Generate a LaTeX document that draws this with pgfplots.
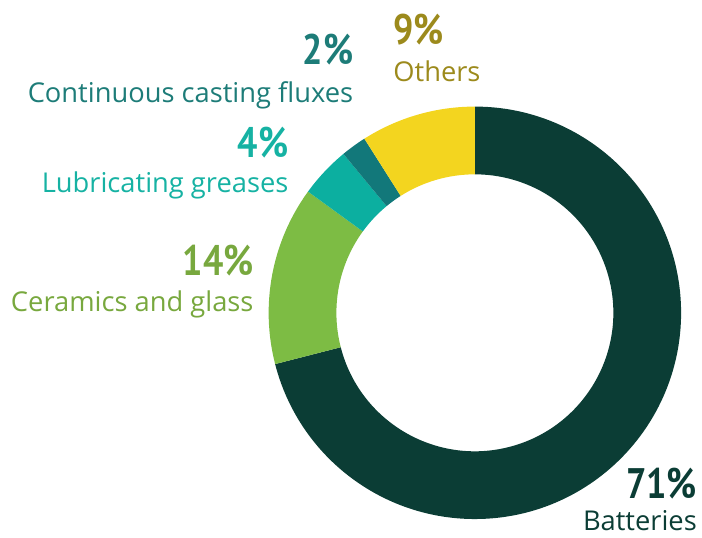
\documentclass[border=0pt]{standalone}
\usepackage{pgfplots}
\pgfplotsset{compat=1.18}
\usepackage{pgfplotstable}
\usepackage{graphicx}
\usepackage{fontspec}
\setmainfont{PT Sans}
\newfontfamily\lblfont{Open Sans}

\definecolor{slice0}{HTML}{0B3D35}
\definecolor{slice1}{HTML}{7DBC44}
\definecolor{slice2}{HTML}{0CAFA0}
\definecolor{slice3}{HTML}{12787A}
\definecolor{slice4}{HTML}{F3D51F}
\definecolor{txt0}{HTML}{0B3D35}
\definecolor{txt1}{HTML}{78A83E}
\definecolor{txt2}{HTML}{16B2A3}
\definecolor{txt3}{HTML}{1D7C78}
\definecolor{txt4}{HTML}{9C8A1C}

% shares in percent, clockwise from 12 o'clock
\pgfplotstableread{
share
71
14
4
2
9
}\slices

\newcommand\angS[1]{\csname aS#1\endcsname}
\newcommand\angE[1]{\csname aE#1\endcsname}
\newcommand\pct[1]{\scalebox{0.84}[1]{\fontsize{43}{48}\selectfont\bfseries #1}}
\newcommand\lbl[1]{{\lblfont\fontsize{27.5}{32}\selectfont #1}}

\begin{document}
\def\acc{90}
\pgfplotsforeachungrouped \i in {0,...,4}{%
  \pgfplotstablegetelem{\i}{share}\of\slices
  \pgfmathsetmacro\aend{\acc-3.6*\pgfplotsretval}%
  \expandafter\xdef\csname aS\i\endcsname{\acc}%
  \expandafter\xdef\csname aE\i\endcsname{\aend}%
  \xdef\acc{\aend}%
}%
\begin{tikzpicture}
\begin{axis}[x=1bp, y=1bp, xmin=0, xmax=702, ymin=0, ymax=540,
  hide axis, clip=false, scale only axis]
  \path (axis cs:0,0) rectangle (axis cs:702,540);
  \pgfplotsinvokeforeach{0,...,4}{
    \fill[slice#1] (axis cs:474,226) ++(\angS{#1}:207bp)
      arc[start angle=\angS{#1}, end angle=\angE{#1}, radius=207bp]
      -- ++(\angE{#1}+180:68bp)
      arc[start angle=\angE{#1}, end angle=\angS{#1}, radius=139bp] -- cycle;
  }
  \node[anchor=base east, inner sep=0pt, text=txt3] at (axis cs:352,475) {\pct{2\%}};
  \node[anchor=base east, inner sep=0pt, text=txt3] at (axis cs:352,437) {\lbl{Continuous casting fluxes}};
  \node[anchor=base east, inner sep=0pt, text=txt2] at (axis cs:287,382) {\pct{4\%}};
  \node[anchor=base east, inner sep=0pt, text=txt2] at (axis cs:287,347) {\lbl{Lubricating greases}};
  \node[anchor=base east, inner sep=0pt, text=txt1] at (axis cs:252,263) {\pct{14\%}};
  \node[anchor=base east, inner sep=0pt, text=txt1] at (axis cs:252,227) {\lbl{Ceramics and glass}};
  \node[anchor=base west, inner sep=0pt, text=txt4] at (axis cs:392,495) {\pct{9\%}};
  \node[anchor=base west, inner sep=0pt, text=txt4] at (axis cs:392,458) {\lbl{Others}};
  \node[anchor=base east, inner sep=0pt, text=txt0] at (axis cs:697,40) {\pct{71\%}};
  \node[anchor=base east, inner sep=0pt, text=txt0] at (axis cs:697,7) {\lbl{Batteries}};
\end{axis}
\end{tikzpicture}
\end{document}
